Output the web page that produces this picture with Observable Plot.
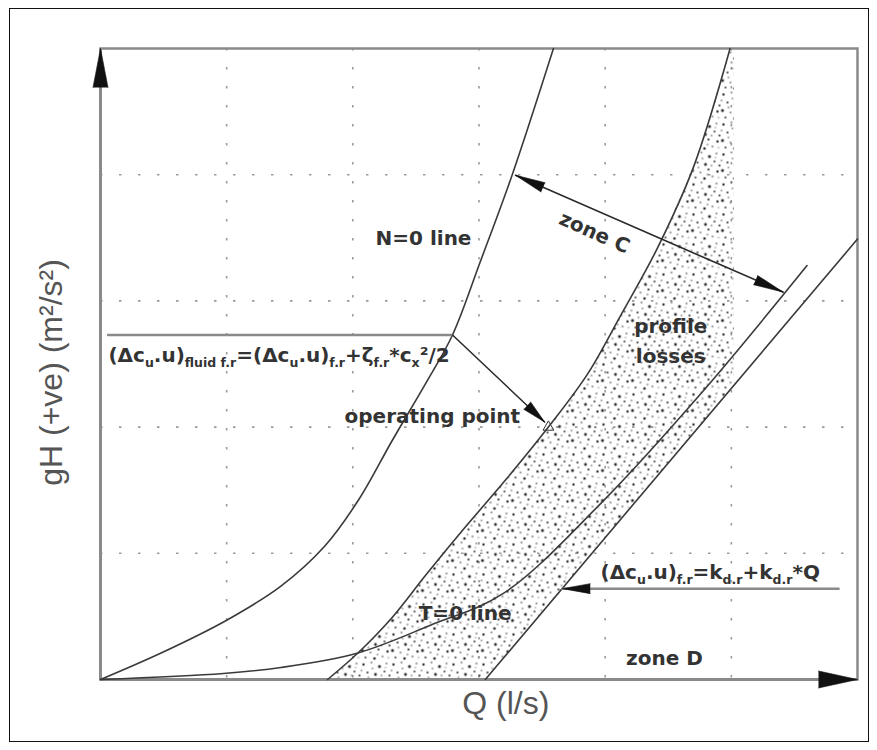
<!DOCTYPE html>
<html><head><meta charset="utf-8">
<script src="https://cdn.jsdelivr.net/npm/d3@7"></script>
<script src="https://cdn.jsdelivr.net/npm/@observablehq/plot@0.6"></script>
<style>
html,body{margin:0;padding:0;background:#fff;}
#wrap{position:relative;width:877px;height:750px;overflow:hidden;background:#fff;}
#wrap svg.plot{position:absolute;left:0;top:0;}
#border{position:absolute;left:9px;top:8px;width:860px;height:734px;border:1px solid #111;box-sizing:border-box;pointer-events:none;}
</style></head><body>
<svg width="0" height="0" style="position:absolute">
  <defs>
    <pattern id="stipple" patternUnits="userSpaceOnUse" width="30" height="30">
      <g fill="#262626">
      <circle cx="3" cy="4" r="1.2"/>
      <circle cx="11" cy="2" r="0.8"/>
      <circle cx="19" cy="6" r="1.5"/>
      <circle cx="26" cy="3" r="0.8"/>
      <circle cx="7" cy="12" r="1.0"/>
      <circle cx="15" cy="14" r="1.4"/>
      <circle cx="24" cy="11" r="0.9"/>
      <circle cx="2" cy="20" r="1.5"/>
      <circle cx="10" cy="22" r="0.8"/>
      <circle cx="18" cy="19" r="1.1"/>
      <circle cx="27" cy="21" r="1.2"/>
      <circle cx="5" cy="27" r="0.9"/>
      <circle cx="14" cy="28" r="1.3"/>
      <circle cx="22" cy="26" r="0.8"/>
      <circle cx="29" cy="15" r="1.0"/>
      <circle cx="12" cy="8" r="0.7"/>
      <circle cx="21" cy="15" r="0.7"/>
      <circle cx="8" cy="17" r="0.7"/>
      <circle cx="25" cy="7" r="0.6"/>
      <circle cx="17" cy="24" r="0.7"/>
      <circle cx="1" cy="10" r="0.7"/>
      <circle cx="28" cy="27" r="0.6"/>
      </g>
    </pattern>
  </defs>
</svg>
<div id="wrap"></div>
<script>
// ---- data (Q in grid units, gH in grid units) ----
const gridQ = [1, 2, 3, 4, 5];
const gridGH = [1, 2, 3, 4];

const nZeroQ  = [0, 0.48, 1.00, 1.43, 1.78, 2.05, 2.31, 2.58, 2.79, 3.01, 3.26, 3.59];
const nZeroGH = [0, 0.21, 0.47, 0.74, 1.06, 1.43, 1.89, 2.35, 2.73, 3.31, 3.99, 5.00];

const profileQ  = [1.80, 2.04, 2.31, 2.58, 2.885, 3.21, 3.55, 3.86, 4.12, 4.41, 4.70, 4.99];
const profileGH = [0, 0.21, 0.49, 0.83, 1.20, 1.58, 2.00, 2.42, 2.88, 3.41, 4.06, 5.00];

const tZeroQ  = [0, 0.975, 1.43, 2.04, 2.615, 3.19, 3.96, 4.78, 5.60];
const tZeroGH = [0, 0.048, 0.095, 0.21, 0.43, 0.68, 1.39, 2.29, 3.28];

const frictionQ  = [3.05, 6.00];
const frictionGH = [0, 3.49];

const stippleEdgeQ  = [5.02, 5.02, 3.05];
const stippleEdgeGH = [5.00, 2.33, 0];

const zoneCQ = [3.29, 5.41], zoneCGH = [3.995, 3.07];
const leaderQ = [0.06, 2.79], leaderGH = [2.73, 2.73];
const opArrowQ = [2.79, 3.52], opArrowGH = [2.73, 2.04];
const opPointQ = [3.55], opPointGH = [2.0];
const kLeaderQ = [5.85, 3.66], kLeaderGH = [0.72, 0.72];

const formula1Parts = [["(Δc",0],["u",1],[".u)",0],["fluid f.r",1],["=(Δc",0],["u",1],[".u)",0],["f.r",1],["+ζ",0],["f.r",1],["*c",0],["x",1],["²/2",0]];
const formula2Parts = [["(Δc",0],["u",1],[".u)",0],["f.r",1],["=k",0],["d.r",1],["+k",0],["d.r",1],["*Q",0]];

// ---- helpers ----
const pts = (qs, hs) => qs.map((q, i) => ({q, h: hs[i]}));
const rot = (q0, h0, q1, h1) => Math.atan2(q1 - q0, h1 - h0) * 180 / Math.PI;
const curveColor = "#3a3a3a";
const labelFont = "DejaVu Sans";

function head(q, h, angle, len, r) {
  return Plot.vector([0], {x: q, y: h, rotate: angle, length: len, r, shape: "spike", anchor: "end", fill: "#111", stroke: "#111", strokeWidth: 0.6});
}

const stipplePoly = pts(profileQ.concat(stippleEdgeQ), profileGH.concat(stippleEdgeGH));

const plot = Plot.plot({
  width: 877, height: 750,
  marginLeft: 100, marginRight: 20, marginTop: 48, marginBottom: 71,
  x: {domain: [0, 6], axis: null},
  y: {domain: [0, 5], axis: null},
  style: {background: "transparent", overflow: "visible"},
  marks: [
    Plot.gridX(gridQ, {stroke: "#9a9a9a", strokeOpacity: 1, strokeWidth: 1.6, strokeDasharray: "2.5,16.5"}),
    Plot.gridY(gridGH, {stroke: "#9a9a9a", strokeOpacity: 1, strokeWidth: 1.6, strokeDasharray: "2.5,16.5"}),
    Plot.line(stipplePoly, {x: "q", y: "h", fill: "url(#stipple)", stroke: "none"}),
    Plot.frame({stroke: "#8a8a8a", strokeWidth: 2.5}),
    Plot.ruleX([0], {stroke: "#8a8a8a", strokeWidth: 3}),
    Plot.ruleY([0], {stroke: "#8a8a8a", strokeWidth: 3}),
    Plot.line(pts(nZeroQ, nZeroGH), {x: "q", y: "h", curve: "catmull-rom", stroke: curveColor, strokeWidth: 1.6}),
    Plot.line(pts(profileQ, profileGH), {x: "q", y: "h", curve: "catmull-rom", stroke: curveColor, strokeWidth: 1.6}),
    Plot.line(pts(tZeroQ, tZeroGH), {x: "q", y: "h", curve: "catmull-rom", stroke: curveColor, strokeWidth: 1.6}),
    Plot.line(pts(frictionQ, frictionGH), {x: "q", y: "h", stroke: curveColor, strokeWidth: 1.6}),
    // leaders and arrows
    Plot.line(pts(leaderQ, leaderGH), {x: "q", y: "h", stroke: "#8a8a8a", strokeWidth: 2.5}),
    Plot.line(pts(kLeaderQ, kLeaderGH), {x: "q", y: "h", stroke: "#8a8a8a", strokeWidth: 2.5}),
    Plot.line(pts(opArrowQ, opArrowGH), {x: "q", y: "h", stroke: "#2a2a2a", strokeWidth: 1.5}),
    Plot.line(pts(zoneCQ, zoneCGH), {x: "q", y: "h", stroke: "#2a2a2a", strokeWidth: 1.6}),
    Plot.dot(pts(opPointQ, opPointGH), {x: "q", y: "h", symbol: "triangle", r: 4, stroke: "#333", strokeWidth: 1, fill: "none"}),
    head(0, 5, 0, 39, 7.5),
    head(6, 0, 90, 39, 8.5),
    head(zoneCQ[0], zoneCGH[0], rot(zoneCQ[1], zoneCGH[1], zoneCQ[0], zoneCGH[0]), 30, 5),
    head(zoneCQ[1], zoneCGH[1], rot(zoneCQ[0], zoneCGH[0], zoneCQ[1], zoneCGH[1]), 30, 5),
    head(opArrowQ[1], opArrowGH[1], rot(opArrowQ[0], opArrowGH[0], opArrowQ[1], opArrowGH[1]), 24, 5),
    head(kLeaderQ[1], kLeaderGH[1], rot(kLeaderQ[0], kLeaderGH[0], kLeaderQ[1], kLeaderGH[1]), 28, 5),
    // labels
    Plot.text(["N=0 line"], {x: 2.56, y: 3.49, text: d => d, fontFamily: labelFont, fontWeight: "bold", fontSize: 20, fill: "#333"}),
    Plot.text(["zone C"], {x: 3.915, y: 3.54, text: d => d, rotate: 24, fontFamily: labelFont, fontWeight: "bold", fontSize: 20, fill: "#333"}),
    Plot.text(["profile\nlosses"], {x: 4.52, y: 2.70, text: d => d, lineHeight: 1.5, fontFamily: labelFont, fontWeight: "bold", fontSize: 20, fill: "#333"}),
    Plot.text([formula1Parts.map(p => p[0]).join("")], {x: 0.063, y: 2.567, text: d => d, textAnchor: "start", className: "formula1", fontFamily: labelFont, fontWeight: "bold", fontSize: 20, fill: "#333"}),
    Plot.text(["operating point"], {x: 2.63, y: 2.08, text: d => d, fontFamily: labelFont, fontWeight: "bold", fontSize: 20, fill: "#333"}),
    Plot.text([formula2Parts.map(p => p[0]).join("")], {x: 3.963, y: 0.848, text: d => d, textAnchor: "start", className: "formula2", fontFamily: labelFont, fontWeight: "bold", fontSize: 20, fill: "#333"}),
    Plot.text(["T=0 line"], {x: 2.89, y: 0.523, text: d => d, fontFamily: labelFont, fontWeight: "bold", fontSize: 20, fill: "#333"}),
    Plot.text(["zone D"], {x: 4.47, y: 0.166, text: d => d, fontFamily: labelFont, fontWeight: "bold", fontSize: 20, fill: "#333"}),
    Plot.text(["Q (l/s)"], {x: 3.213, y: -0.19, text: d => d, fontFamily: "Liberation Sans", fontSize: 32, fill: "#555"}),
    Plot.text(["gH (+ve) (m²/s²)"], {x: -0.388, y: 2.433, text: d => d, rotate: -90, fontFamily: "Liberation Sans", fontSize: 32, fill: "#555"})
  ]
});

function richify(svg, cls, parts, subSize) {
  d3.select(svg).selectAll(`.${cls} text`).each(function () {
    const t = d3.select(this);
    t.text(null);
    let shifted = false;
    for (const [s, sub] of parts) {
      const ts = t.append("tspan").text(s);
      if (sub) {
        ts.attr("font-size", subSize);
        if (!shifted) { ts.attr("dy", 5); shifted = true; }
      } else if (shifted) {
        ts.attr("dy", -5); shifted = false;
      }
    }
  });
}
richify(plot, "formula1", formula1Parts, 12.5);
richify(plot, "formula2", formula2Parts, 12.5);

const wrap = document.getElementById("wrap");
plot.classList.add("plot");
wrap.appendChild(plot);
const border = document.createElement("div");
border.id = "border";
wrap.appendChild(border);
</script>
</body></html>
